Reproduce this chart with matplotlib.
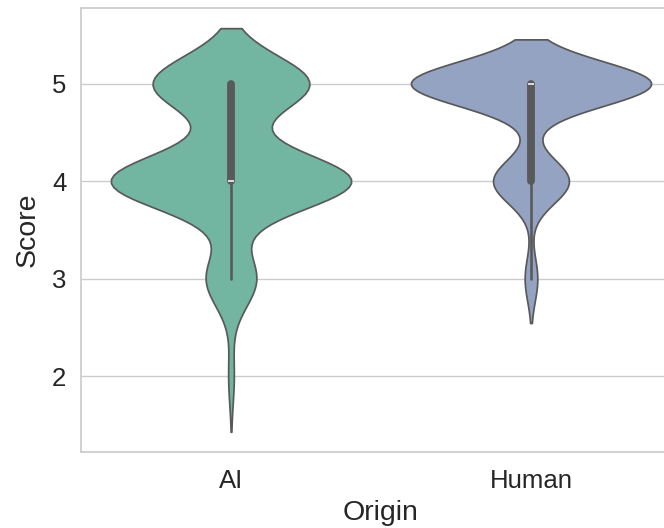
import numpy as np
import pandas as pd
import matplotlib
matplotlib.use("Agg")
import matplotlib.pyplot as plt
import seaborn as sns

# score counts per origin
scores = [2, 3, 4, 5]
ai_counts = [1, 9, 43, 28]
human_counts = [0, 3, 18, 57]
origins = ["AI", "Human"]
colors = [sns.color_palette("Set2")[0], sns.color_palette("Set2")[2]]

df = pd.DataFrame({
    "Origin": ["AI"] * sum(ai_counts) + ["Human"] * sum(human_counts),
    "Score": np.concatenate([np.repeat(scores, ai_counts),
                             np.repeat(scores, human_counts)]),
})

sns.set_theme(style="whitegrid")
plt.rcParams["font.family"] = ["Liberation Sans", "DejaVu Sans"]

fig = plt.figure(figsize=(6.64, 5.28), dpi=100)
ax = fig.add_axes([81 / 664, 76 / 528, 600 / 664, 444 / 528])
sns.violinplot(data=df, x="Origin", y="Score", hue="Origin", order=origins,
               hue_order=origins, palette=colors, density_norm="width",
               inner="box", legend=False, ax=ax)
ax.set_yticks([2, 3, 4, 5])
ax.tick_params(axis="both", labelsize=18.5)
ax.tick_params(axis="x", pad=6)
ax.tick_params(axis="y", pad=4.5)
ax.set_xlabel("Origin", fontsize=20.5, labelpad=5)
ax.set_ylabel("Score", fontsize=20.5, labelpad=8)

fig.savefig("out.png", dpi=100)
